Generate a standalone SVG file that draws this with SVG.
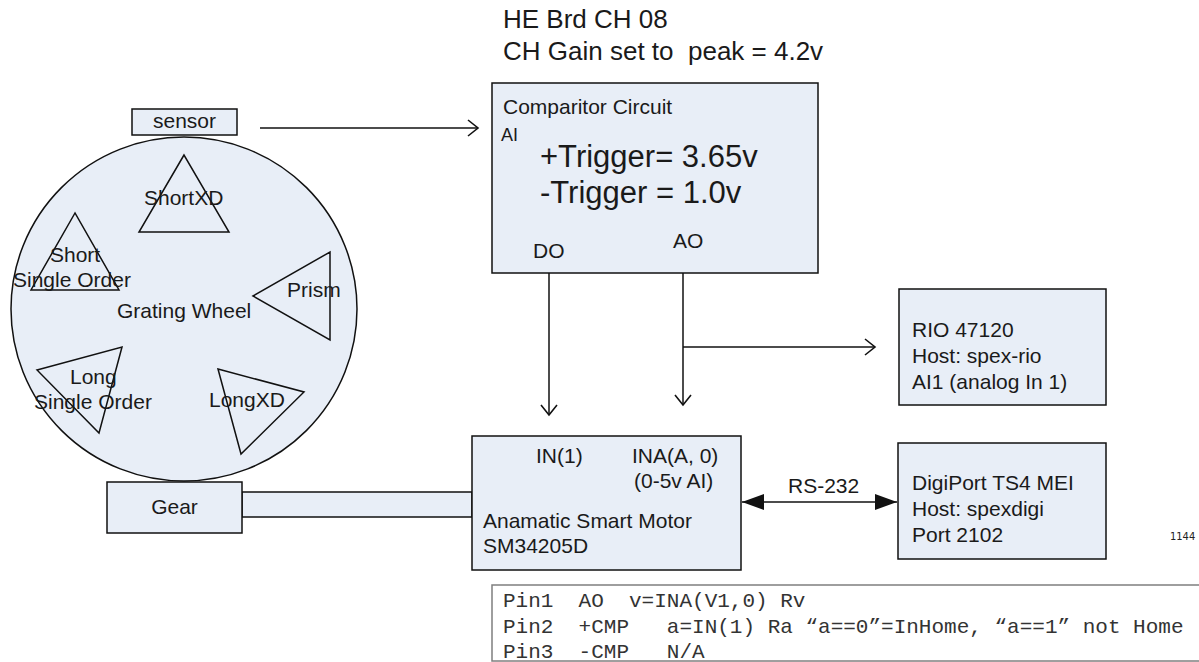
<svg xmlns="http://www.w3.org/2000/svg" width="1199" height="662" viewBox="0 0 1199 662">
<style>
.box{fill:#e8eef7;stroke:#111;stroke-width:1.5}
.tri{fill:none;stroke:#111;stroke-width:1.5}
.ln{fill:none;stroke:#111;stroke-width:1.5}
.t{font-family:"Liberation Sans",Arial,sans-serif;font-size:21px;fill:#1a1a1a}
.big{font-size:31px}
.title{font-size:26px}
.mono{font-family:"Liberation Mono","Courier New",monospace;font-size:21px;fill:#333;white-space:pre}
</style>
<defs>
<marker id="open" viewBox="-12 -10 14 20" markerWidth="14" markerHeight="20" refX="0" refY="0" orient="auto" markerUnits="userSpaceOnUse">
<path d="M-10,-8 L0,0 L-10,8" fill="none" stroke="#111" stroke-width="1.6"/>
</marker>
<marker id="solid" viewBox="-23 -9 24 18" markerWidth="24" markerHeight="18" refX="0" refY="0" orient="auto-start-reverse" markerUnits="userSpaceOnUse">
<path d="M-22,-8 L0,0 L-22,8 Z" fill="#111"/>
</marker>
</defs>

<g id="title">
<text class="t title" x="503" y="28">HE Brd CH 08</text>
<text class="t title" x="503" y="60" style="white-space:pre">CH Gain set to  peak = 4.2v</text>
</g>

<g id="grating-wheel">
<ellipse class="box" cx="184" cy="309" rx="173" ry="172"/>
<text class="t" x="117" y="318">Grating Wheel</text>
</g>

<g id="shortxd">
<polygon class="tri" points="184,155 139,232 229,232"/>
<text class="t" x="144" y="205">ShortXD</text>
</g>

<g id="short-single-order">
<polygon class="tri" points="75,213 31,290 119,290"/>
<text class="t" x="50" y="262">Short</text>
<text class="t" x="13" y="287">Single Order</text>
</g>

<g id="prism">
<polygon class="tri" points="253,296 330,252 330,340"/>
<text class="t" x="287" y="297">Prism</text>
</g>

<g id="long-single-order">
<polygon class="tri" points="37,370 122,347 99,433"/>
<text class="t" x="70" y="384">Long</text>
<text class="t" x="34" y="409">Single Order</text>
</g>

<g id="longxd">
<polygon class="tri" points="218,369 304,392 241,454"/>
<text class="t" x="209" y="407">LongXD</text>
</g>

<g id="sensor">
<rect class="box" x="132" y="109" width="105" height="26"/>
<text class="t" x="184.5" y="128" text-anchor="middle">sensor</text>
</g>

<g id="gear">
<rect class="box" x="242" y="492" width="230" height="25"/>
<rect class="box" x="107" y="482" width="135" height="51"/>
<text class="t" x="174.5" y="514" text-anchor="middle">Gear</text>
</g>

<g id="comparitor">
<rect class="box" x="492" y="83" width="326" height="190"/>
<text class="t" x="503" y="114">Comparitor Circuit</text>
<text class="t" x="501" y="141" style="font-size:18px">AI</text>
<text class="t big" x="540" y="167">+Trigger= 3.65v</text>
<text class="t big" x="540" y="203">-Trigger = 1.0v</text>
<text class="t" x="533" y="258">DO</text>
<text class="t" x="673" y="248">AO</text>
</g>

<g id="motor">
<rect class="box" x="472" y="436" width="269" height="134"/>
<text class="t" x="536" y="463">IN(1)</text>
<text class="t" x="632" y="463">INA(A, 0)</text>
<text class="t" x="634" y="488">(0-5v AI)</text>
<text class="t" x="483" y="528">Anamatic Smart Motor</text>
<text class="t" x="483" y="553">SM34205D</text>
</g>

<g id="rio">
<rect class="box" x="899" y="289" width="207" height="116"/>
<text class="t" x="912" y="337">RIO 47120</text>
<text class="t" x="912" y="363">Host: spex-rio</text>
<text class="t" x="912" y="389">AI1 (analog In 1)</text>
</g>

<g id="digiport">
<rect class="box" x="898" y="443" width="208" height="116"/>
<text class="t" x="912" y="490">DigiPort TS4 MEI</text>
<text class="t" x="912" y="516">Host: spexdigi</text>
<text class="t" x="912" y="542">Port 2102</text>
</g>

<g id="pin-table">
<rect x="492" y="585" width="720" height="76" fill="#fff" stroke="#7f7f7f" stroke-width="1.5"/>
<text class="mono" x="503" y="607">Pin1  AO  v=INA(V1,0) Rv</text>
<text class="mono" x="503" y="633">Pin2  +CMP   a=IN(1) Ra “a==0”=InHome, “a==1” not Home</text>
<text class="mono" x="503" y="658">Pin3  -CMP   N/A</text>
</g>

<g id="page-number">
<text x="1170" y="540" style="font-family:'DejaVu Sans Condensed','DejaVu Sans',sans-serif;font-size:11px;fill:#222">1144</text>
</g>

<g id="connectors">
<line class="ln" x1="260" y1="128" x2="478" y2="128" marker-end="url(#open)"/>
<line class="ln" x1="549" y1="273" x2="549" y2="415" marker-end="url(#open)"/>
<line class="ln" x1="683" y1="273" x2="683" y2="405" marker-end="url(#open)"/>
<line class="ln" x1="683" y1="347" x2="875" y2="347" marker-end="url(#open)"/>
<line class="ln" x1="742" y1="502" x2="897" y2="502" marker-start="url(#solid)" marker-end="url(#solid)"/>
<text class="t" x="788" y="493">RS-232</text>
</g>
</svg>
